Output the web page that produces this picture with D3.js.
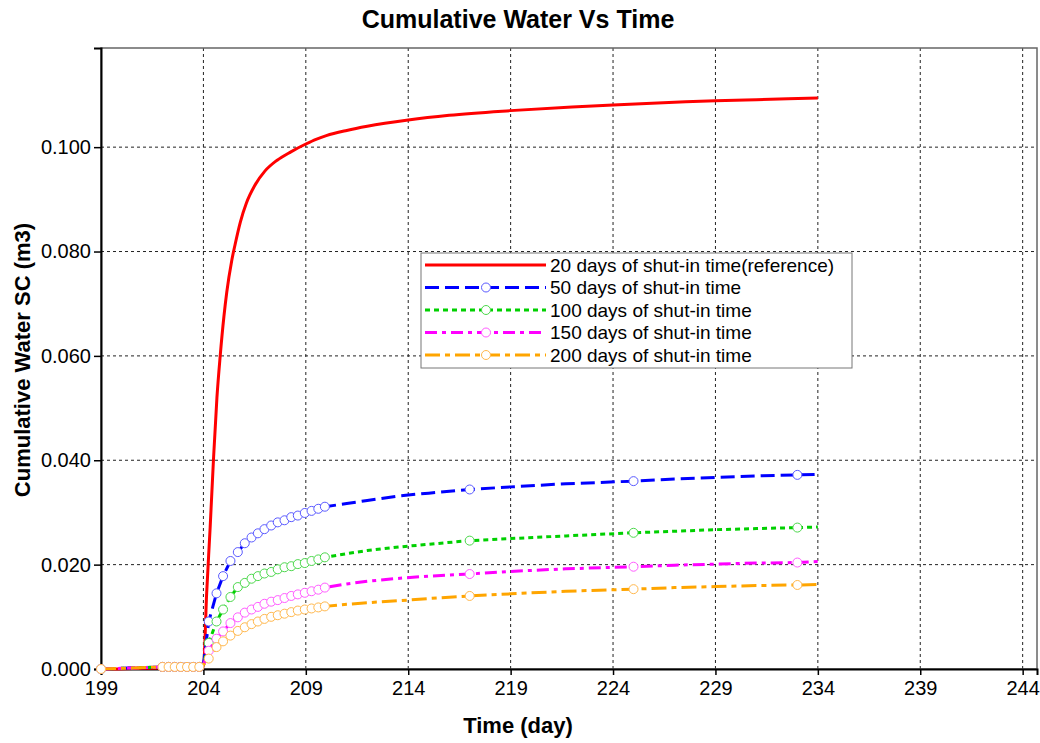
<!DOCTYPE html>
<html>
<head>
<meta charset="utf-8">
<script src="https://cdn.jsdelivr.net/npm/d3@7"></script>
<style>
  body { margin: 0; background: #fff; }
  text { font-family: "Liberation Sans", Arial, sans-serif; }
</style>
</head>
<body>
<div id="chart"></div>
<script>
// Time axis of the red reference run
const redTime = [199, 204.0, 204.16, 204.33, 204.49, 204.66, 204.82, 205.0, 205.14, 205.38, 205.55, 205.8, 206.1, 206.5, 207.0, 207.6, 208.27, 209.0, 209.5, 210.0, 211, 212, 214, 216, 219, 222, 224, 227, 229, 231, 234];
const redValues = [0, 0.0005, 0.0146, 0.0272, 0.0400, 0.0520, 0.0600, 0.0675, 0.0722, 0.0782, 0.0814, 0.0856, 0.0893, 0.0926, 0.0954, 0.0975, 0.0991, 0.1006, 0.1015, 0.1022, 0.1032, 0.1040, 0.1052, 0.1061, 0.1070, 0.1077, 0.1081, 0.1086, 0.1089, 0.1091, 0.1094];

// Time axis shared by the other runs
const shutTime = [199, 202.0, 202.3, 202.6, 202.9, 203.2, 203.5, 203.8, 204.0,
  204.26, 204.64, 204.96, 205.32, 205.68, 206.02, 206.35, 206.66, 206.98, 207.31, 207.63, 207.96, 208.29, 208.61, 208.95, 209.28, 209.61, 209.93,
  211, 212, 213.6, 215, 217, 219, 221.7, 225, 227, 229, 231, 233, 234];
// times that carry a circle marker
const markerTimes = [199, 202.0, 202.3, 202.6, 202.9, 203.2, 203.5, 203.8,
  204.26, 204.64, 204.96, 205.32, 205.68, 206.02, 206.35, 206.66, 206.98, 207.31, 207.63, 207.96, 208.29, 208.61, 208.95, 209.28, 209.61, 209.93,
  217, 225, 233];

const preValues = [0, 0.0004, 0.0004, 0.0004, 0.0004, 0.0004, 0.0004, 0.0004, 0.0008];
const blueValues = preValues.concat([
  0.0091, 0.0145, 0.0178, 0.0207, 0.0224, 0.0241, 0.0252, 0.0260, 0.0268, 0.0275, 0.0281, 0.0285, 0.0291, 0.0294, 0.0299, 0.0303, 0.0307, 0.0311,
  0.0317, 0.0323, 0.0332, 0.0337, 0.0344, 0.0349, 0.0355, 0.0360, 0.0364, 0.0367, 0.0370, 0.0372, 0.0373]);
const greenValues = preValues.concat([
  0.0050, 0.0091, 0.0114, 0.0138, 0.0157, 0.0165, 0.0173, 0.0178, 0.0183, 0.0186, 0.0191, 0.0195, 0.0197, 0.0201, 0.0203, 0.0207, 0.0210, 0.0214,
  0.0221, 0.0227, 0.0234, 0.0239, 0.0246, 0.0250, 0.0255, 0.0261, 0.0264, 0.0267, 0.0269, 0.0271, 0.0272]);
const magentaValues = preValues.concat([
  0.0035, 0.0058, 0.0072, 0.0088, 0.0099, 0.0108, 0.0114, 0.0119, 0.0125, 0.0129, 0.0132, 0.0136, 0.0140, 0.0143, 0.0146, 0.0149, 0.0152, 0.0156,
  0.0163, 0.0168, 0.0174, 0.0178, 0.0182, 0.0187, 0.0192, 0.0196, 0.0199, 0.0201, 0.0203, 0.0204, 0.0206]);
const orangeValues = preValues.concat([
  0.0020, 0.0042, 0.0053, 0.0064, 0.0073, 0.0080, 0.0086, 0.0091, 0.0096, 0.0100, 0.0103, 0.0106, 0.0109, 0.0112, 0.0114, 0.0116, 0.0118, 0.0120,
  0.0124, 0.0127, 0.0131, 0.0135, 0.0140, 0.0144, 0.0149, 0.0153, 0.0156, 0.0158, 0.0160, 0.0161, 0.0162]);

const seriesNames = ["20 days of shut-in time(reference)", "50 days of shut-in time", "100 days of shut-in time", "150 days of shut-in time", "200 days of shut-in time"];
const xTicks = [199, 204, 209, 214, 219, 224, 229, 234, 239, 244];
const yTicks = [0, 0.02, 0.04, 0.06, 0.08, 0.1];

// build the series table
const series = [
  { name: seriesNames[0], time: redTime, values: redValues, color: "#ff0000", mark: null, dash: null, markers: false },
  { name: seriesNames[1], time: shutTime, values: blueValues, color: "#0000ff", mark: "#5a5aff", dash: "14,6", markers: true },
  { name: seriesNames[2], time: shutTime, values: greenValues, color: "#00d000", mark: "#4cd84c", dash: "5,4", markers: true },
  { name: seriesNames[3], time: shutTime, values: magentaValues, color: "#ff00ff", mark: "#ff5cff", dash: "12,5,4,5", markers: true },
  { name: seriesNames[4], time: shutTime, values: orangeValues, color: "#ffa500", mark: "#ffb84d", dash: "15,5,5,5", markers: true }
];
series.forEach(s => { s.points = s.time.map((t, i) => ({ t: t, v: s.values[i] })); });

const width = 1040, height = 743;
const plotLeft = 101, plotRight = 1037, plotTop = 48, plotBottom = 669;

const svg = d3.select("#chart").append("svg")
  .attr("width", width)
  .attr("height", height);

svg.append("rect").attr("width", width).attr("height", height).attr("fill", "#fff");

const x = d3.scaleLinear().domain([199, 244.7]).range([plotLeft, plotRight]);
const y = d3.scaleLinear().domain([0, 0.119]).range([plotBottom, plotTop]);

// grid
svg.append("g").selectAll("line").data(xTicks.slice(1)).enter().append("line")
  .attr("x1", d => x(d)).attr("x2", d => x(d))
  .attr("y1", plotTop).attr("y2", plotBottom)
  .attr("stroke", "#222").attr("stroke-dasharray", "3,3");
svg.append("g").selectAll("line").data(yTicks.slice(1)).enter().append("line")
  .attr("x1", plotLeft).attr("x2", plotRight)
  .attr("y1", d => y(d)).attr("y2", d => y(d))
  .attr("stroke", "#222").attr("stroke-dasharray", "3,3");

// frame
svg.append("rect")
  .attr("x", plotLeft).attr("y", plotTop)
  .attr("width", plotRight - plotLeft).attr("height", plotBottom - plotTop)
  .attr("fill", "none").attr("stroke", "#666").attr("stroke-width", 1.5);

// axes
const xAxis = svg.append("g")
  .attr("transform", `translate(0,${plotBottom})`)
  .call(d3.axisBottom(x).tickValues(xTicks).tickSize(6).tickPadding(6).tickFormat(d3.format("d")));
const yAxis = svg.append("g")
  .attr("transform", `translate(${plotLeft},0)`)
  .call(d3.axisLeft(y).tickValues(yTicks).tickSize(7).tickPadding(3).tickFormat(d3.format(".3f")));
[xAxis, yAxis].forEach(a => {
  a.select(".domain").attr("stroke", "#000").attr("stroke-width", 2);
  a.selectAll(".tick line").attr("stroke", "#000").attr("stroke-width", 1.5);
  a.selectAll("text").attr("font-size", "20px").attr("fill", "#000")
    .style("font-family", "'Liberation Sans', Arial, sans-serif");
});

// lines
const line = d3.line().x(d => x(d.t)).y(d => y(d.v));
series.forEach(s => {
  svg.append("path")
    .datum(s.points)
    .attr("d", line.curve(s.markers ? d3.curveLinear : d3.curveMonotoneX))
    .attr("fill", "none")
    .attr("stroke", s.color)
    .attr("stroke-width", 3)
    .attr("stroke-dasharray", s.dash);
  if (s.markers) {
    svg.append("g").selectAll("circle")
      .data(s.points.filter(p => markerTimes.includes(p.t)))
      .enter().append("circle")
      .attr("cx", d => x(d.t)).attr("cy", d => y(d.v)).attr("r", 4.5)
      .attr("fill", "#fff").attr("stroke", s.mark).attr("stroke-width", 1);
  }
});

// titles
svg.append("text").attr("x", 518).attr("y", 28).attr("text-anchor", "middle")
  .attr("font-size", "25px").attr("font-weight", "bold").text("Cumulative Water Vs Time");
svg.append("text").attr("x", 518).attr("y", 733).attr("text-anchor", "middle")
  .attr("font-size", "22px").attr("font-weight", "bold").text("Time (day)");
svg.append("text").attr("transform", "translate(30,360) rotate(-90)").attr("text-anchor", "middle")
  .attr("font-size", "22px").attr("font-weight", "bold").text("Cumulative Water SC (m3)");

// legend
const legend = svg.append("g");
legend.append("rect")
  .attr("x", 421).attr("y", 253).attr("width", 431).attr("height", 115)
  .attr("fill", "#fff").attr("stroke", "#777").attr("stroke-width", 1);
series.forEach((s, i) => {
  const ly = 265 + i * 22.5;
  legend.append("line")
    .attr("x1", 425).attr("x2", 546).attr("y1", ly).attr("y2", ly)
    .attr("stroke", s.color).attr("stroke-width", 3).attr("stroke-dasharray", s.dash);
  if (s.markers) {
    legend.append("circle").attr("cx", 486).attr("cy", ly).attr("r", 4.5)
      .attr("fill", "#fff").attr("stroke", s.mark).attr("stroke-width", 1);
  }
  legend.append("text").attr("x", 550).attr("y", ly).attr("dy", "0.35em")
    .attr("font-size", "19px").text(s.name);
});
</script>
</body>
</html>
